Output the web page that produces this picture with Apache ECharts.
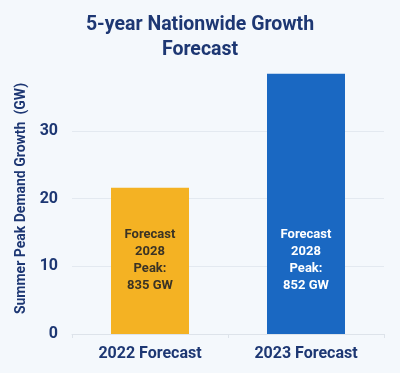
<!DOCTYPE html>
<html><head><meta charset="utf-8">
<script src="https://cdn.jsdelivr.net/npm/echarts@6/dist/echarts.min.js"></script>
<style>html,body{margin:0;padding:0;background:#f4f8fc;}#c{width:400px;height:373px;}</style>
</head><body><div id="c"></div>
<script>
var categories = ['2022 Forecast', '2023 Forecast'];
var values = [21.6, 38.4];
var barLabels = ['Forecast\n2028\nPeak:\n835 GW', 'Forecast\n2028\nPeak:\n852 GW'];
var barColors = ['#f4b223', '#1a68c2'];
var labelColors = ['#3a3325', '#ffffff'];
var navy = '#1d3773';
var chart = echarts.init(document.getElementById('c'));
chart.setOption({
  backgroundColor: '#f4f8fc',
  title: {
    text: '5-year Nationwide Growth\nForecast',
    left: 'center', top: 8,
    textStyle: {fontFamily: 'Roboto', fontWeight: 'bold', fontSize: 19.5, color: navy, lineHeight: 25}
  },
  grid: {left: 72, right: 16, top: 63, bottom: 39},
  xAxis: {
    type: 'category', data: categories,
    axisLine: {lineStyle: {color: '#dde3ea'}},
    axisTick: {show: true, length: 4, lineStyle: {color: '#dde3ea'}},
    axisLabel: {fontFamily: 'Roboto', fontWeight: 'bold', fontSize: 16, color: navy, margin: 12}
  },
  yAxis: {
    type: 'value', min: 0, max: 40, interval: 10,
    name: 'Summer Peak Demand Growth  (GW)', nameLocation: 'middle', nameGap: 40,
    nameTextStyle: {fontFamily: 'Roboto', fontWeight: 'bold', fontSize: 14, color: navy},
    axisLabel: {fontFamily: 'Roboto', fontWeight: 'bold', fontSize: 16, color: navy, margin: 14, showMaxLabel: false},
    splitLine: {lineStyle: {color: ['#e3e9f0', '#e3e9f0', '#e3e9f0', '#e3e9f0', 'rgba(0,0,0,0)']}}
  },
  series: [{
    type: 'bar', barWidth: '50%',
    data: values.map(function (v, i) {
      return {
        value: v,
        itemStyle: {color: barColors[i]},
        label: {
          show: true, position: 'insideBottom', distance: 40, formatter: barLabels[i],
          fontFamily: 'Roboto', fontWeight: 'bold', fontSize: 13, lineHeight: 17, color: labelColors[i]
        }
      };
    })
  }]
});
</script></body></html>
